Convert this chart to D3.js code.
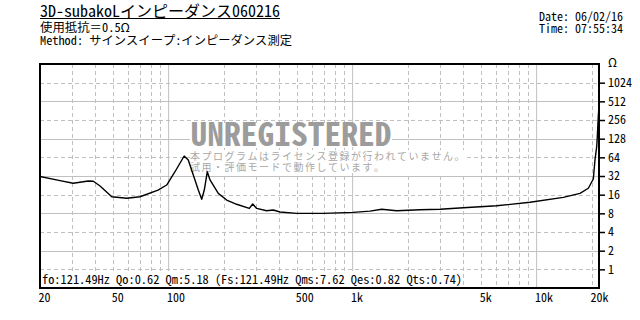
<!DOCTYPE html>
<html>
<head>
<meta charset="utf-8">
<script src="https://cdn.jsdelivr.net/npm/d3@7"></script>
<style>
  body { margin: 0; background: #fff; }
  #graf { width: 640px; height: 320px; }
  text { font-family: "Noto Sans Mono CJK JP", "Noto Sans CJK JP", "DejaVu Sans", sans-serif; }
</style>
</head>
<body>
<div id="graf"></div>
<script>
// Datos
frecuencias = [20, 25.7, 30.3, 36.6, 39.0, 42.4, 49.1, 59.2, 69.9, 87.6, 97.6, 108.3,
  121.5, 127.9, 136.2, 145, 151.3, 156.3, 162.3, 167.9, 186.2, 206.8, 234.4, 274.5,
  286.4, 301.2, 341, 370.6, 403, 497, 690, 1005, 1243, 1439, 1736, 2324, 2986, 3996,
  6068, 9206, 13966, 17212, 19100, 20333, 20760, 21210, 21372, 21630, 21830]
impedancia = [31.5, 26.9, 24.4, 26.6, 26.3, 22.1, 14.8, 14.0, 14.8, 19.0, 22.9, 37.5,
  67.2, 58, 33.2, 19.0, 13.5, 19.0, 37.5, 27.6, 16.8, 13.1, 11.2, 9.6,
  11.3, 9.6, 8.8, 9.05, 8.4, 8.0, 8.0, 8.3, 8.7, 9.3, 8.8, 9.16, 9.3, 9.86,
  10.6, 12.05, 14.5, 16.8, 20.3, 28.6, 58, 95, 137.7, 289, 430]

xTicks = [20, 50, 100, 500, 1000, 5000, 10000, 20000]
xTickLabels = ['20', '50', '100', '500', '1k', '5k', '10k', '20k']
yTicks = [1, 2, 4, 8, 16, 32, 64, 128, 256, 512, 1024]

xGridSolid = [100, 1000, 10000]
xGridDashed = [30, 40, 50, 60, 70, 80, 90, 200, 300, 400, 500, 600, 700, 800, 900,
  2000, 3000, 4000, 5000, 6000, 7000, 8000, 9000, 20000]
yGridSolid = [2, 8, 32, 128, 512]
yGridDashed = [1, 4, 16, 64, 256, 1024]

titulo = '3D-subakoLインピーダンス060216'
lineas = ['使用抵抗＝0.5Ω', 'Method:  サインスイープ:インピーダンス測定']
fecha = ['Date: 06/02/16', 'Time: 07:55:34']
parametros = 'fo:121.49Hz  Qo:0.62 Qm:5.18 (Fs:121.49Hz  Qms:7.62 Qes:0.82 Qts:0.74)'
marca = 'UNREGISTERED'
aviso = ['本プログラムはライセンス登録が行われていません。', '試用・評価モードで動作しています。']

// Configuración
margins = { top: 64, left: 40, right: 41, bottom: 32 }
ancho_total = 640
alto_total = 320
ancho = ancho_total - margins.left - margins.right
alto = alto_total - margins.top - margins.bottom

// ancho estilo "gothic": medio ancho para ASCII, ancho completo para el resto
function anchoGothic(s, size) {
  let w = 0
  for (const ch of s) {
    w += (ch.charCodeAt(0) < 0x2000 && ch !== 'Ω') ? size / 2 : size
  }
  return w
}

svg = d3.select('#graf').append('svg')
  .attr('width', ancho_total)
  .attr('height', alto_total)

x = d3.scaleLog().domain([20, 21830]).range([margins.left, margins.left + ancho])
y = d3.scaleLog().base(2).domain([0.5, 2048]).range([margins.top + alto, margins.top])

// Encabezado
function texto(g, s, px, py, size, opts) {
  opts = opts || {}
  return g.append('text')
    .attr('x', px).attr('y', py)
    .attr('font-size', size)
    .attr('fill', opts.fill || '#000')
    .attr('textLength', opts.len || anchoGothic(s, size))
    .attr('lengthAdjust', opts.adjust || 'spacingAndGlyphs')
    .text(s)
}

texto(svg, titulo, 40, 17, 16)
svg.append('line')
  .attr('x1', 40).attr('x2', 40 + anchoGothic(titulo, 16))
  .attr('y1', 18.5).attr('y2', 18.5)
  .attr('stroke', '#000').attr('stroke-width', 1)
lineas.forEach((s, i) => texto(svg, s, 40, 32 + i * 13, 12))
fecha.forEach((s, i) => texto(svg, s, 539, 21 + i * 12, 12))

// Rejilla
grid = svg.append('g')
grid.selectAll('.vs').data(xGridSolid).enter().append('line')
  .attr('x1', d => x(d)).attr('x2', d => x(d))
  .attr('y1', margins.top).attr('y2', margins.top + alto)
  .attr('stroke', '#c0c0c0')
grid.selectAll('.vd').data(xGridDashed).enter().append('line')
  .attr('x1', d => Math.round(x(d)) + 0.5).attr('x2', d => Math.round(x(d)) + 0.5)
  .attr('y1', margins.top).attr('y2', margins.top + alto)
  .attr('stroke', '#c0c0c0').attr('stroke-dasharray', '4,3')
grid.selectAll('.hs').data(yGridSolid).enter().append('line')
  .attr('x1', margins.left).attr('x2', margins.left + ancho)
  .attr('y1', d => Math.round(y(d)) + 0.5).attr('y2', d => Math.round(y(d)) + 0.5)
  .attr('stroke', '#c0c0c0')
grid.selectAll('.hd').data(yGridDashed).enter().append('line')
  .attr('x1', margins.left).attr('x2', margins.left + ancho)
  .attr('y1', d => Math.round(y(d)) + 0.5).attr('y2', d => Math.round(y(d)) + 0.5)
  .attr('stroke', '#c0c0c0').attr('stroke-dasharray', '4,3')

// Marca de agua
wm = svg.append('g')
wm.append('rect').attr('x', 190).attr('y', 123).attr('width', 202).attr('height', 24).attr('fill', '#fff')
wm.append('rect').attr('x', 190).attr('y', 150).attr('width', 277).attr('height', 23).attr('fill', '#fff')
texto(wm, marca, 190.5, 146, 32, { fill: '#9c9c9c', len: 201 })
  .attr('font-weight', 'bold')
aviso.forEach((s, i) => {
  texto(wm, s, 190, 159.5 + i * 11.5, 10, { fill: '#a8a8a8', len: s.length * 11.5 - 1.5, adjust: 'spacing' })
})

// Curva
svg.append('clipPath').attr('id', 'clip')
  .append('rect').attr('x', margins.left).attr('y', margins.top)
  .attr('width', ancho).attr('height', alto)

puntos = frecuencias.map((f, i) => [f, impedancia[i]])
linea = d3.line().x(d => x(d[0])).y(d => y(d[1]))
svg.append('path')
  .datum(puntos)
  .attr('clip-path', 'url(#clip)')
  .attr('d', linea)
  .attr('fill', 'none')
  .attr('stroke', '#000')
  .attr('stroke-width', 1.4)
  .attr('stroke-linejoin', 'round')

// Parámetros abajo
svg.append('rect').attr('x', 41).attr('y', 271)
  .attr('width', anchoGothic(parametros, 12) + 2).attr('height', 16).attr('fill', '#fff')
texto(svg, parametros, 42, 283.5, 12)

// Marco
svg.append('rect')
  .attr('x', margins.left).attr('y', margins.top)
  .attr('width', ancho).attr('height', alto)
  .attr('fill', 'none').attr('stroke', '#000').attr('stroke-width', 2)

// Ejes
yAxisCall = d3.axisRight(y).tickValues(yTicks).tickSize(6).tickPadding(3).tickFormat(d => d + '')
yAxisGroup = svg.append('g')
  .attr('transform', `translate(${ margins.left + ancho }, 0)`)
  .call(yAxisCall)
yAxisGroup.select('.domain').remove()
yAxisGroup.selectAll('line').attr('stroke', '#000').attr('stroke-width', 1.5)
yAxisGroup.selectAll('text')
  .attr('font-size', 12).attr('font-family', null).attr('fill', '#000')
  .attr('textLength', d => anchoGothic(d + '', 12))
  .attr('lengthAdjust', 'spacingAndGlyphs')
yAxisGroup.attr('font-family', null)
texto(svg, 'Ω', 608, 67, 12, { len: 9 })

xAxisCall = d3.axisBottom(x).tickValues(xTicks).tickSize(0)
  .tickFormat((d, i) => xTickLabels[i])
xAxisGroup = svg.append('g')
  .attr('transform', `translate(0, ${ margins.top + alto })`)
  .attr('font-family', null)
  .call(xAxisCall)
xAxisGroup.select('.domain').remove()
xAxisGroup.selectAll('text')
  .attr('font-size', 12).attr('fill', '#000')
  .attr('text-anchor', 'start')
  .attr('x', -2).attr('y', 14).attr('dy', 0)
  .attr('textLength', (d, i) => anchoGothic(xTickLabels[i], 12))
  .attr('lengthAdjust', 'spacingAndGlyphs')
</script>
</body>
</html>
